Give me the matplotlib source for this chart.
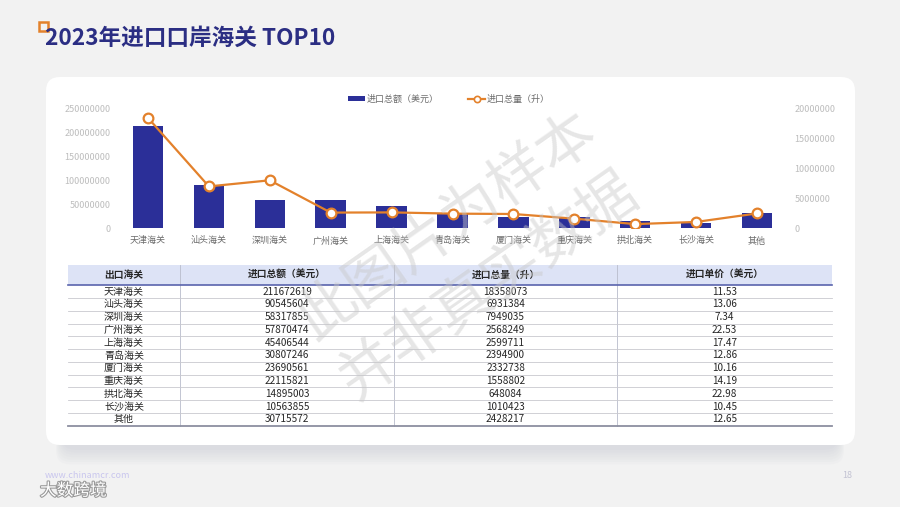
import matplotlib
matplotlib.use("Agg")
import matplotlib.pyplot as plt
from matplotlib.patches import FancyBboxPatch, Rectangle, Patch
from matplotlib.lines import Line2D
import matplotlib.patheffects as pe

plt.rcParams["font.family"] = ["Noto Sans CJK SC", "DejaVu Sans"]

# ---- data -----------------------------------------------------------------
ports = ["天津海关", "汕头海关", "深圳海关", "广州海关", "上海海关", "青岛海关",
         "厦门海关", "重庆海关", "拱北海关", "长沙海关", "其他"]
import_value = [211672619, 90545604, 58317855, 57870474, 45406544, 30807246,
                23690561, 22115821, 14895003, 10563855, 30715572]
import_volume = [18358073, 6931384, 7949035, 2568249, 2599711, 2394900,
                 2332738, 1558802, 648084, 1010423, 2428217]
unit_price = [11.53, 13.06, 7.34, 22.53, 17.47, 12.86, 10.16, 14.19, 22.98,
              10.45, 12.65]
table_cols = ["出口海关", "进口总额（美元）", "进口总量（升）", "进口单价（美元）"]
left_ticks = [0, 50000000, 100000000, 150000000, 200000000, 250000000]
right_ticks = [0, 5000000, 10000000, 15000000, 20000000]

NAVY = "#2b2f98"
ORANGE = "#e3812b"
TICK = "#bdbdbd"
LABEL = "#6b6b6b"
INK = "#262626"

W, H = 900, 507
fig = plt.figure(figsize=(W / 100, H / 100), dpi=100, facecolor="#f2f2f2")

# ---- page background / panel (pixel coords) -------------------------------
bg = fig.add_axes([0, 0, 1, 1], zorder=0)
bg.set_xlim(0, W)
bg.set_ylim(H, 0)
bg.axis("off")

for k in range(7):
    bg.add_patch(FancyBboxPatch((62 - k, 90), 776 + 2 * k, 360 + k * 2.4,
                                boxstyle="round,pad=0,rounding_size=14",
                                fc="#b8bcc8", ec="none", alpha=0.06))
bg.add_patch(FancyBboxPatch((46, 77), 809, 368,
                            boxstyle="round,pad=0,rounding_size=14",
                            fc="white", ec="none"))

bg.add_patch(Rectangle((39, 22), 9, 9, fc="none", ec=ORANGE, lw=1.8))
bg.text(45, 38, "2023年进口口岸海关 TOP10", fontsize=16.3, fontweight="bold",
        color="#2b2e83", va="center", ha="left")

# ---- table ----------------------------------------------------------------
col_x = [68, 180, 394, 617, 832]
head_top, head_bot = 265, 285.3
row_h = 12.76
n = len(ports)
tab_bot = head_bot + n * row_h

bg.add_patch(Rectangle((col_x[0], head_top), col_x[-1] - col_x[0],
                       head_bot - head_top, fc="#dde3f6", ec="none"))
for x in col_x[1:-1]:
    bg.plot([x, x], [head_top, tab_bot], color="#b8bccb", lw=0.6)
for i in range(1, n):
    y = head_bot + i * row_h
    bg.plot([col_x[0], col_x[-1]], [y, y], color="#c9c9cf", lw=0.6)
bg.plot([col_x[0], col_x[-1]], [head_bot, head_bot], color="#5a64ad", lw=1.2)
bg.plot([col_x[0], col_x[-1]], [tab_bot, tab_bot], color="#8c8fa0", lw=1.3)

centers = [(col_x[i] + col_x[i + 1]) / 2 for i in range(4)]
for c, name in enumerate(table_cols):
    bg.text(centers[c], (head_top + head_bot) / 2, name, fontsize=7,
            fontweight="bold", color=INK, ha="center", va="center")
for r in range(n):
    yc = head_bot + (r + 0.5) * row_h
    cells = [ports[r], str(import_value[r]), str(import_volume[r]),
             f"{unit_price[r]:.2f}"]
    for c, s in enumerate(cells):
        bg.text(centers[c], yc, s, fontsize=7.2, color=INK, ha="center",
                va="center")

# ---- footer ---------------------------------------------------------------
bg.text(45, 476, "www.chinamcr.com", fontsize=6.5, color="#c9c6ee",
        va="center")
bg.text(852, 476, "18", fontsize=6.5, color="#c3c3d3", va="center", ha="right")
bg.text(40, 491, "大数跨境", fontsize=12, color="white", va="center",
        path_effects=[pe.withStroke(linewidth=1.6, foreground="#9a9a9a")])

# ---- combo chart ----------------------------------------------------------
ax = fig.add_axes([117.5 / W, 1 - 228 / H, 670 / W, 120 / H], zorder=1)
ax.set_facecolor("none")
xs = list(range(n))
ax.bar(xs, import_value, width=0.5, color=NAVY, zorder=2)
ax.set_xlim(-0.5, n - 0.5)
ax.set_ylim(0, 250000000)
ax.set_yticks(left_ticks)
ax.set_yticklabels([str(t) for t in left_ticks])
ax.set_xticks(xs)
ax.set_xticklabels(ports)
for s in ax.spines.values():
    s.set_visible(False)
ax.tick_params(axis="y", length=0, pad=5, labelsize=6.5, labelcolor=TICK)
ax.tick_params(axis="x", length=0, pad=6, labelsize=6.5, labelcolor=LABEL)

ax2 = ax.twinx()
ax2.plot(xs, import_volume, color=ORANGE, lw=1.6, marker="o", ms=7,
         mfc="white", mec=ORANGE, mew=1.6, zorder=3)
ax2.set_ylim(0, 20000000)
ax2.set_yticks(right_ticks)
ax2.set_yticklabels([str(t) for t in right_ticks])
for s in ax2.spines.values():
    s.set_visible(False)
ax2.tick_params(axis="y", length=0, pad=5, labelsize=6.5, labelcolor=TICK)

handles = [Patch(fc=NAVY, ec="none"),
           Line2D([], [], color=ORANGE, lw=1.6, marker="o", ms=4.5,
                  mfc="white", mec=ORANGE, mew=1.2)]
leg = fig.legend(handles, ["进口总额（美元）", "进口总量（升）"], ncol=2,
                 loc="center", bbox_to_anchor=(449 / W, 1 - 99 / H),
                 frameon=False, fontsize=6.5, handlelength=1.9,
                 handleheight=0.5, handletextpad=0.2, columnspacing=3.2)
for t in leg.get_texts():
    t.set_color(LABEL)

# ---- watermark ------------------------------------------------------------
fig.text(468 / W, 1 - 256 / H, "此图片为样本\n并非真实数据", fontsize=42,
         color="#c8c8c8", alpha=0.45, rotation=35, ha="center", va="center",
         linespacing=1.25, zorder=10)

fig.savefig("out.png", dpi=100, facecolor=fig.get_facecolor())
